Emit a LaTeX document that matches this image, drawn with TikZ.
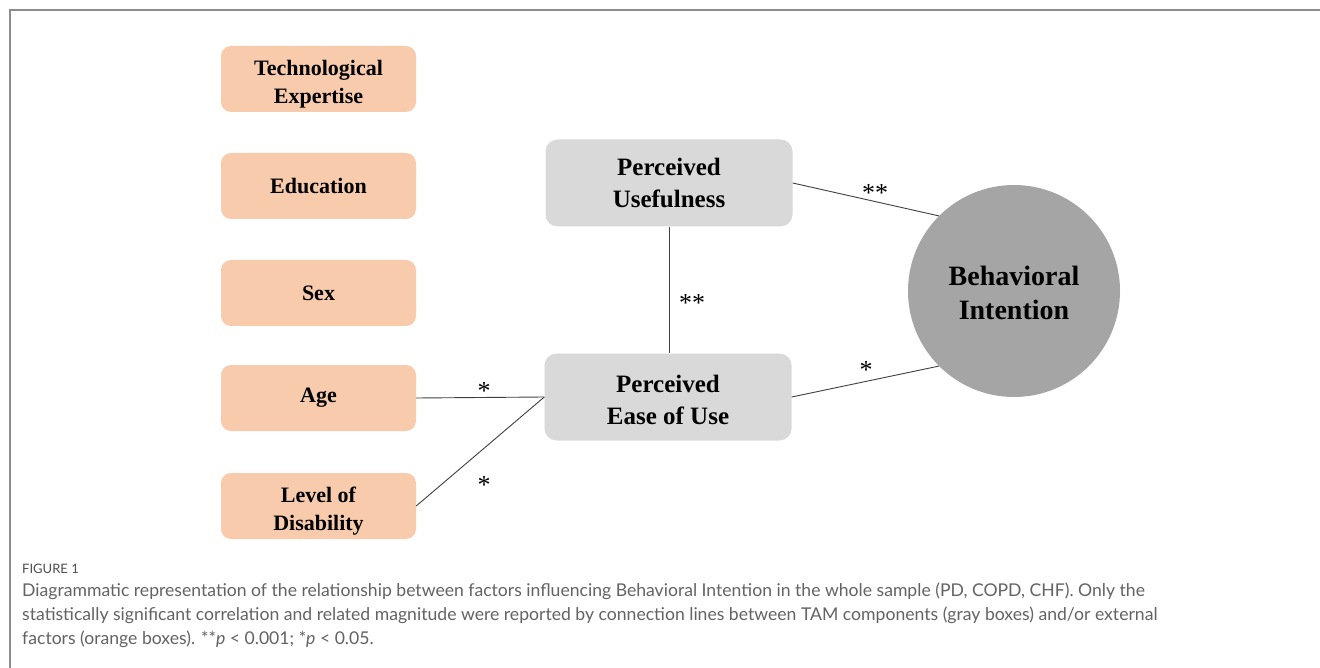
\documentclass[tikz,border=0pt]{standalone}
\usepackage{fontspec}
\setmainfont{Liberation Serif}
\newfontfamily\capfont{Lato}
\definecolor{orangebox}{HTML}{F8CBAD}
\definecolor{graybox}{HTML}{D9D9D9}
\definecolor{circfill}{HTML}{A5A5A5}
\definecolor{linecol}{HTML}{404040}
\definecolor{framecol}{HTML}{8C8C8C}
\definecolor{captext}{HTML}{636363}
\begin{document}
\begin{tikzpicture}[x=1pt,y=-1pt,
  obox/.style={fill=orangebox, rounded corners=10pt, minimum width=195pt, minimum height=66pt,
     align=center, font=\fontsize{22}{28}\selectfont\bfseries, inner sep=0pt},
  gbox/.style={fill=graybox, rounded corners=12pt, minimum width=247pt, minimum height=87pt,
     align=center, font=\fontsize{25}{32}\selectfont\bfseries, inner sep=0pt},
  bcirc/.style={circle, fill=circfill, minimum size=212pt, inner sep=0pt, align=center,
     font=\fontsize{28}{34}\selectfont\bfseries},
  conn/.style={draw=linecol, line width=0.9pt},
  star/.style={font=\fontsize{26}{26}\selectfont, inner sep=0pt},
  captxt/.style={anchor=base west, inner sep=0pt, text=captext, font=\capfont\fontsize{17.6}{20}\selectfont}
]
\useasboundingbox (0,0) rectangle (1320,668);
\fill[white] (0,0) rectangle (1320,668);
\draw[framecol, line width=2pt] (10,668) -- (10,10) -- (1320,10);

\node[obox] (te)  at (318.5,79)  {};
\node[font=\fontsize{22}{28}\selectfont\bfseries, align=center, inner sep=0pt] (tet) at (318.5,84) {Technological\\Expertise};
\node[obox] (edu) at (318.5,186) {Education};
\node[obox] (sex) at (318.5,293) {Sex};
\node[obox] (age) at (318.5,398) {Age};
\node[obox] (lod) at (318.5,506) {};
\node[font=\fontsize{22}{28}\selectfont\bfseries, align=center, inner sep=0pt] (lodt) at (318.5,511) {Level of\\Disability};

\node[gbox] (pu)  at (669,183) {Perceived\\Usefulness};
\node[gbox] (peu) at (668,397) {};
\node[font=\fontsize{25}{32}\selectfont\bfseries, align=center, inner sep=0pt] (peut) at (668,400) {Perceived\\Ease of Use};

\node[bcirc] (bi) at (1014,291) {};
\node[font=\fontsize{28}{34}\selectfont\bfseries, align=center, inner sep=0pt] (bit) at (1014,293) {Behavioral\\Intention};

\draw[conn] (pu.south) -- (pu.south |- peu.north);
\draw[conn] (pu.east) -- (bi.135);
\draw[conn] (peu.east) -- (bi.225);
\draw[conn] (age.east) -- (peu.west);
\draw[conn] (lod.east) -- (peu.west);

\node[star] (s1) at (692,303) {**};
\node[star] (s2) at (875,193) {**};
\node[star] (s3) at (866,370) {*};
\node[star] (s4) at (484,391) {*};
\node[star] (s5) at (484,485) {*};

\node[anchor=base west, inner sep=0pt, text=captext!80!black, font=\capfont\fontsize{13}{15}\selectfont] (fig) at (22,573) {FIGURE 1};
\node[captxt] (c1) at (22,596) {Diagrammatic representation of the relationship between factors influencing Behavioral Intention in the whole sample (PD, COPD, CHF). Only the};
\node[captxt] (c2) at (22,620) {statistically significant correlation and related magnitude were reported by connection lines between TAM components (gray boxes) and/or external};
\node[captxt] (c3) at (22,644) {factors (orange boxes). **\textit{p} < 0.001; *\textit{p} < 0.05.};
\end{tikzpicture}
\end{document}
